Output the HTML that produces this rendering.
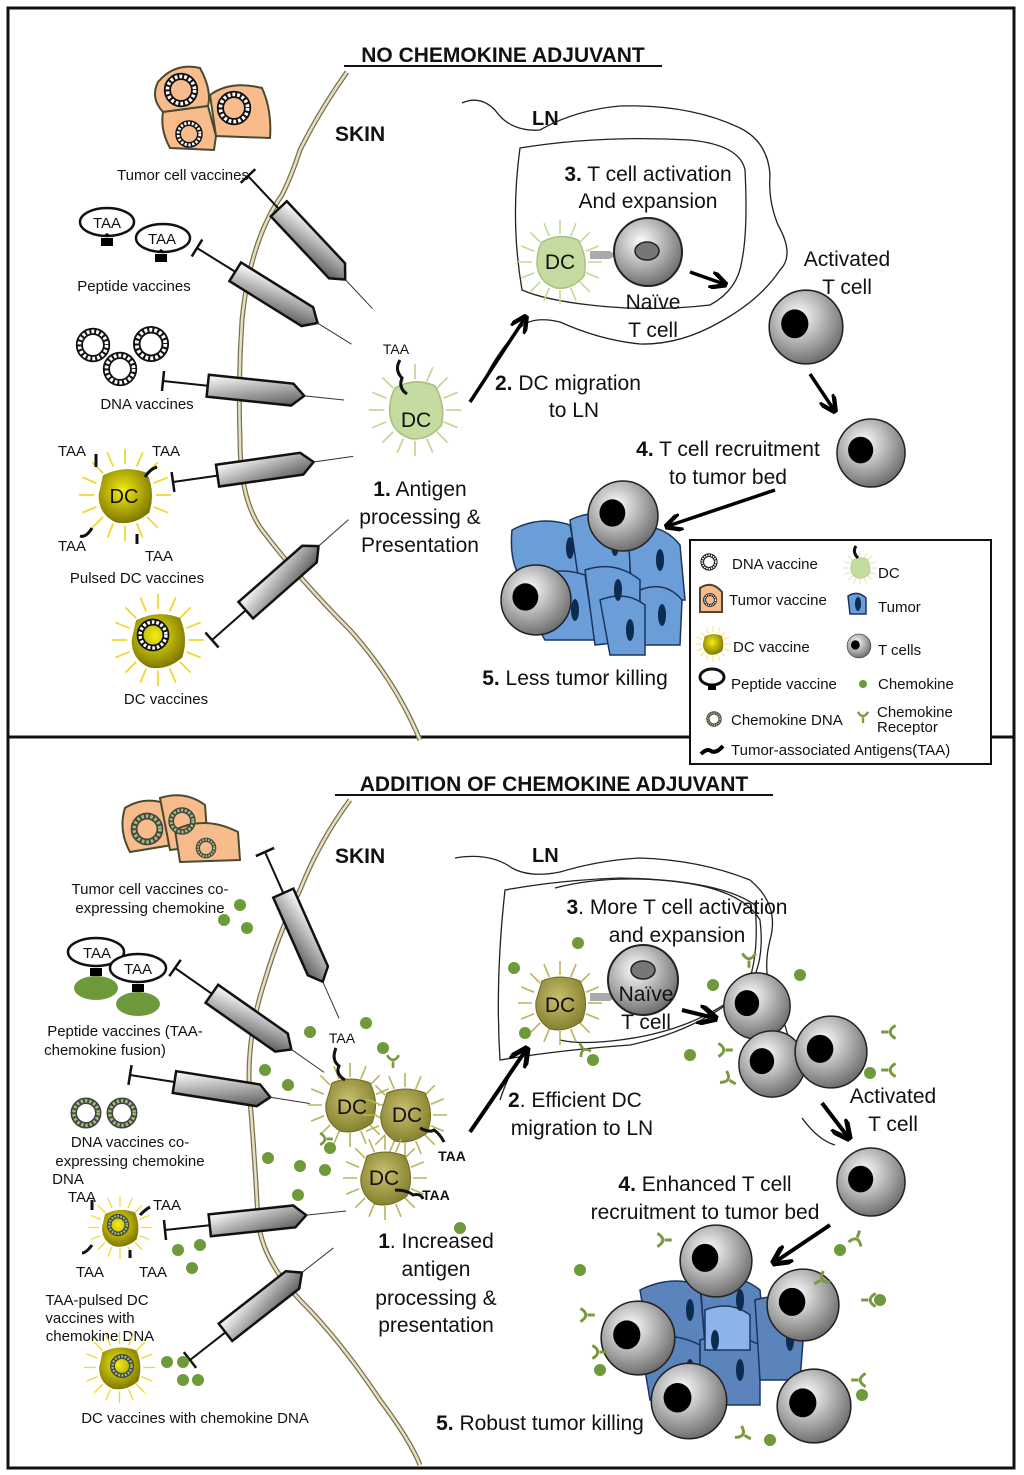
<!DOCTYPE html>
<html><head><meta charset="utf-8"><style>
html,body{margin:0;padding:0;background:#fff}
svg{display:block}
text{font-family:"Liberation Sans",sans-serif;fill:#111}
</style></head><body>
<svg width="1024" height="1475" viewBox="0 0 1024 1475" xmlns="http://www.w3.org/2000/svg">
<defs>
<linearGradient id="bar" x1="0" y1="0" x2="1" y2="1"><stop offset="0" stop-color="#fff"/><stop offset="1" stop-color="#555"/></linearGradient>
<radialGradient id="tg" cx="0.4" cy="0.35" r="0.7"><stop offset="0" stop-color="#fff"/><stop offset="1" stop-color="#666"/></radialGradient>
<radialGradient id="yg" cx="0.45" cy="0.4" r="0.6"><stop offset="0" stop-color="#f4ee10"/><stop offset="1" stop-color="#807800"/></radialGradient>
<radialGradient id="og" cx="0.45" cy="0.4" r="0.6"><stop offset="0" stop-color="#c8c070"/><stop offset="1" stop-color="#86822e"/></radialGradient>
<symbol id="syr" viewBox="0 -15 185 30" overflow="visible">
<line x1="0" y1="-10" x2="0" y2="10" stroke="#111" stroke-width="2.5"/>
<line x1="0" y1="0" x2="45" y2="0" stroke="#111" stroke-width="2"/>
<path d="M45,-11 H130 L142,0 L130,11 H45 Z" fill="url(#bar)" stroke="#111" stroke-width="2.5"/>
<line x1="142" y1="0" x2="182" y2="0" stroke="#333" stroke-width="1"/>
</symbol>
<symbol id="spk" viewBox="0 0 100 100">
<path d="M78,50L92,50M75.9,60.7L88.8,66.1M69.8,69.8L79.7,79.7M60.7,75.9L66.1,88.8M50,78L50,92M39.3,75.9L33.9,88.8M30.2,69.8L20.3,79.7M24.1,60.7L11.2,66.1M22,50L8,50M24.1,39.3L11.2,33.9M30.2,30.2L20.3,20.3M39.3,24.1L33.9,11.2M50,22L50,8M60.7,24.1L66.1,11.2M69.8,30.2L79.7,20.3M75.9,39.3L88.8,33.9" stroke="currentColor" stroke-width="1.6" fill="none"/>
</symbol>
<symbol id="dcg" viewBox="0 0 100 100">
<use href="#spk" x="0" y="0" width="100" height="100" style="color:#c6d79a"/>
<path d="M32,30 Q50,20 68,28 Q78,45 74,64 Q62,78 46,76 Q28,70 27,52 Q27,38 32,30Z" fill="#c5dca0" stroke="#a9c07f" stroke-width="1.5"/>
</symbol>
<symbol id="dcy" viewBox="0 0 100 100">
<use href="#spk" x="0" y="0" width="100" height="100" style="color:#f2d630"/>
<path d="M30,32 Q50,22 70,30 Q78,48 72,66 Q58,78 42,75 Q26,68 26,50Z" fill="url(#yg)"/>
</symbol>
<symbol id="dco" viewBox="0 0 100 100">
<use href="#spk" x="0" y="0" width="100" height="100" style="color:#b8b460"/>
<path d="M32,28 Q50,20 70,28 Q80,48 72,68 Q56,80 40,76 Q24,66 26,48Z" fill="url(#og)" stroke="#6f6a20" stroke-width="1"/>
</symbol>
<symbol id="tc" viewBox="0 0 100 100">
<circle cx="50" cy="50" r="46" fill="url(#tg)" stroke="#222" stroke-width="2"/>
<ellipse cx="36" cy="46" rx="17" ry="18" fill="#000"/>
</symbol>
<symbol id="ring" viewBox="0 0 100 100">
<circle cx="50" cy="50" r="34" fill="none" stroke="#111" stroke-width="18"/>
<circle cx="50" cy="50" r="34" fill="none" stroke="#fff" stroke-width="9" stroke-dasharray="7 5"/>
</symbol>
<symbol id="gring" viewBox="0 0 100 100">
<circle cx="50" cy="50" r="34" fill="none" stroke="#444" stroke-width="18"/>
<circle cx="50" cy="50" r="34" fill="none" stroke="#9ec070" stroke-width="9" stroke-dasharray="7 5"/>
</symbol>
<symbol id="rec" viewBox="0 0 30 30">
<path d="M4,4 Q15,22 26,4" fill="none" stroke="#7a9a40" stroke-width="5"/>
<line x1="15" y1="16" x2="15" y2="28" stroke="#7a9a40" stroke-width="5"/>
</symbol>
<marker id="ah" viewBox="0 0 10 10" refX="8" refY="5" markerWidth="5" markerHeight="5" orient="auto"><path d="M0,0 L10,5 L0,10" fill="none" stroke="#000" stroke-width="2.5"/></marker>
</defs>

<rect x="8" y="8" width="1006" height="1460" fill="#fff" stroke="#111" stroke-width="3"/>
<line x1="8" y1="737" x2="1014" y2="737" stroke="#111" stroke-width="3"/>

<!-- ============ TOP PANEL ============ -->
<text x="503" y="62" font-size="21" font-weight="bold" text-anchor="middle">NO CHEMOKINE ADJUVANT</text>
<line x1="344" y1="66" x2="662" y2="66" stroke="#111" stroke-width="2"/>
<text x="335" y="141" font-size="21" font-weight="bold">SKIN</text>
<text x="532" y="125" font-size="20" font-weight="bold">LN</text>

<path d="M347,72 Q320,110 300,150 Q292,175 282,195 Q250,240 242,320 Q238,380 240,440 Q240,500 262,530 Q300,580 350,630 Q395,680 420,740" fill="none" stroke="#7a7150" stroke-width="5"/>
<path d="M347,72 Q320,110 300,150 Q292,175 282,195 Q250,240 242,320 Q238,380 240,440 Q240,500 262,530 Q300,580 350,630 Q395,680 420,740" fill="none" stroke="#e6e0c0" stroke-width="2.5"/>

<g stroke="#4a4a30" stroke-width="2" fill="#f8bc8c">
<path d="M158,82 Q175,62 200,68 Q212,90 208,106 L163,112 Q150,98 158,82Z"/>
<path d="M210,95 Q230,80 262,88 Q272,110 270,138 L216,136 Z"/>
<path d="M163,112 L208,106 L216,136 L214,150 L170,148 Q160,130 163,112Z"/>
</g>
<use href="#ring" x="160" y="70" width="42" height="40"/>
<use href="#ring" x="212" y="88" width="44" height="40"/>
<use href="#ring" x="168" y="118" width="42" height="32"/>
<text x="183" y="180" font-size="15" text-anchor="middle">Tumor cell vaccines</text>

<ellipse cx="107" cy="222" rx="27" ry="14" fill="#fff" stroke="#111" stroke-width="2.5"/>
<text x="107" y="228" font-size="15" text-anchor="middle">TAA</text>
<path d="M101,238 h12 v8 h-12z M103,236 l4,-3 l4,3z" fill="#000"/>
<ellipse cx="163" cy="238" rx="27" ry="14" fill="#fff" stroke="#111" stroke-width="2.5"/>
<text x="162" y="244" font-size="15" text-anchor="middle">TAA</text>
<path d="M155,254 h12 v8 h-12z M157,252 l4,-3 l4,3z" fill="#000"/>
<text x="134" y="291" font-size="15" text-anchor="middle">Peptide vaccines</text>

<use href="#ring" x="72" y="325" width="42" height="40"/>
<use href="#ring" x="126" y="323" width="50" height="42"/>
<use href="#ring" x="94" y="349" width="52" height="40"/>
<text x="147" y="409" font-size="15" text-anchor="middle">DNA vaccines</text>

<use href="#dcy" x="65" y="440" width="120" height="110"/>
<text x="124" y="503" font-size="20" text-anchor="middle">DC</text>
<path d="M96,467 v-13 M145,477 q5,-8 12,-10 M92,528 q-6,10 -12,8 M137,534 v10" stroke="#111" stroke-width="3" fill="none"/>
<text x="72" y="456" font-size="15" text-anchor="middle">TAA</text>
<text x="166" y="456" font-size="15" text-anchor="middle">TAA</text>
<text x="72" y="551" font-size="15" text-anchor="middle">TAA</text>
<text x="159" y="561" font-size="15" text-anchor="middle">TAA</text>
<text x="137" y="583" font-size="15" text-anchor="middle">Pulsed DC vaccines</text>

<use href="#dcy" x="98" y="585" width="120" height="110"/>
<use href="#ring" x="134" y="616" width="38" height="38"/>
<text x="166" y="704" font-size="15" text-anchor="middle">DC vaccines</text>

<use href="#syr" x="0" y="-15" width="185" height="30" transform="translate(248,176) rotate(46.8)"/>
<use href="#syr" x="0" y="-15" width="185" height="30" transform="translate(197,248) rotate(31.9)"/>
<use href="#syr" x="0" y="-15" width="185" height="30" transform="translate(163,381) rotate(6)"/>
<use href="#syr" x="0" y="-15" width="185" height="30" transform="translate(173,482) rotate(-8.1)"/>
<use href="#syr" x="0" y="-15" width="185" height="30" transform="translate(212,640) rotate(-41.4)"/>

<use href="#dcg" x="360" y="355" width="110" height="110"/>
<text x="416" y="427" font-size="21" text-anchor="middle">DC</text>
<path d="M400,360 q-6,10 2,18 q-4,10 5,16" stroke="#111" stroke-width="3" fill="none"/>
<text x="396" y="354" font-size="14" text-anchor="middle">TAA</text>
<text x="420" y="496" font-size="21" text-anchor="middle"><tspan font-weight="bold">1.</tspan> Antigen</text>
<text x="420" y="524" font-size="21" text-anchor="middle">processing &amp;</text>
<text x="420" y="552" font-size="21" text-anchor="middle">Presentation</text>

<path d="M462,103 Q480,95 495,110 Q510,132 540,130 Q575,110 620,106 Q690,104 740,128 Q768,142 770,175 Q768,200 778,225 Q795,255 780,270 Q760,300 720,322 Q680,345 640,344 Q600,340 560,322 Q530,315 518,330 Q500,350 488,372" fill="none" stroke="#222" stroke-width="1.3"/>
<path d="M520,148 Q600,135 690,140 Q740,145 745,170 Q748,230 742,260 Q738,290 710,305 Q650,312 590,305 Q545,300 522,290 Q510,220 520,148Z" fill="none" stroke="#222" stroke-width="1.3"/>
<text x="648" y="181" font-size="21" text-anchor="middle"><tspan font-weight="bold">3.</tspan> T cell activation</text>
<text x="648" y="208" font-size="21" text-anchor="middle">And expansion</text>
<use href="#dcg" x="510" y="212" width="100" height="100"/>
<text x="560" y="269" font-size="21" text-anchor="middle">DC</text>
<path d="M590,251 h20 l6,4 l-6,4 h-20z" fill="#aaa"/>
<circle cx="648" cy="252" r="34" fill="url(#tg)" stroke="#222" stroke-width="2"/>
<ellipse cx="647" cy="251" rx="12" ry="9" fill="#777" stroke="#222" stroke-width="1.5"/>
<text x="653" y="309" font-size="21" text-anchor="middle">Naïve</text>
<text x="653" y="337" font-size="21" text-anchor="middle">T cell</text>
<line x1="690" y1="272" x2="724" y2="284" stroke="#000" stroke-width="3.5" marker-end="url(#ah)"/>
<text x="847" y="266" font-size="21" text-anchor="middle">Activated</text>
<text x="847" y="294" font-size="21" text-anchor="middle">T cell</text>
<use href="#tc" x="766" y="287" width="80" height="80"/>
<line x1="470" y1="402" x2="525" y2="318" stroke="#000" stroke-width="3.5" marker-end="url(#ah)"/>
<text x="495" y="390" font-size="21"><tspan font-weight="bold">2.</tspan> DC migration</text>
<text x="574" y="417" font-size="21" text-anchor="middle">to LN</text>
<line x1="810" y1="374" x2="834" y2="410" stroke="#000" stroke-width="3.5" marker-end="url(#ah)"/>
<use href="#tc" x="834" y="416" width="74" height="74"/>
<text x="728" y="456" font-size="21" text-anchor="middle"><tspan font-weight="bold">4.</tspan> T cell recruitment</text>
<text x="728" y="484" font-size="21" text-anchor="middle">to tumor bed</text>
<line x1="775" y1="490" x2="668" y2="526" stroke="#000" stroke-width="3.5" marker-end="url(#ah)"/>

<g fill="#6b9ed8" stroke="#1b3560" stroke-width="1.5">
<path d="M512,530 Q540,515 570,525 L580,580 L530,590 Q508,570 512,530Z"/>
<path d="M570,520 Q600,505 630,525 L630,585 L580,590Z"/>
<path d="M628,530 Q660,520 680,545 L685,600 L632,600Z"/>
<path d="M530,580 Q555,565 585,575 L595,640 L545,640 Q530,615 530,580Z"/>
<path d="M585,570 Q615,560 640,580 L640,640 L595,645Z"/>
<path d="M640,590 Q665,580 682,600 L680,645 L640,645Z"/>
<path d="M600,600 Q625,590 645,605 L645,655 L610,655Z"/>
</g>
<g fill="#0d2a50"><ellipse cx="570" cy="548" rx="4" ry="11"/><ellipse cx="615" cy="545" rx="4" ry="11"/><ellipse cx="660" cy="560" rx="4" ry="11"/><ellipse cx="575" cy="610" rx="4" ry="11"/><ellipse cx="618" cy="590" rx="4" ry="11"/><ellipse cx="662" cy="615" rx="4" ry="11"/><ellipse cx="630" cy="630" rx="4" ry="11"/></g>
<use href="#tc" x="585" y="478" width="76" height="76"/>
<use href="#tc" x="498" y="562" width="76" height="76"/>
<text x="575" y="685" font-size="21" text-anchor="middle"><tspan font-weight="bold">5.</tspan> Less tumor killing</text>

<rect x="690" y="540" width="301" height="224" fill="#fff" stroke="#111" stroke-width="2"/>
<use href="#ring" x="699" y="551" width="20" height="22"/>
<text x="732" y="569" font-size="15">DNA vaccine</text>
<use href="#dcg" x="838" y="548" width="44" height="40"/>
<path d="M856,546 q-4,6 2,12" stroke="#111" stroke-width="3" fill="none"/>
<text x="878" y="578" font-size="15">DC</text>
<path d="M700,588 Q712,580 722,592 L722,612 L700,612Z" fill="#f8bc8c" stroke="#4a4a30" stroke-width="2"/>
<use href="#ring" x="702" y="592" width="16" height="16"/>
<text x="729" y="605" font-size="15">Tumor vaccine</text>
<path d="M848,596 Q858,590 866,598 L866,614 L850,614Z" fill="#6b9ed8" stroke="#1b3560" stroke-width="1.5"/>
<ellipse cx="858" cy="604" rx="3" ry="7" fill="#0d2a50"/>
<text x="878" y="612" font-size="15">Tumor</text>
<use href="#dcy" x="692" y="623" width="42" height="42"/>
<text x="733" y="652" font-size="15">DC vaccine</text>
<use href="#tc" x="846" y="633" width="26" height="26"/>
<text x="878" y="655" font-size="15">T cells</text>
<ellipse cx="712" cy="677" rx="12" ry="8" fill="#fff" stroke="#111" stroke-width="3"/>
<path d="M708,684 h8 v6 h-8z" fill="#000"/>
<text x="731" y="689" font-size="15">Peptide vaccine</text>
<circle cx="863" cy="684" r="4" fill="#6f9a3c"/>
<text x="878" y="689" font-size="15">Chemokine</text>
<use href="#gring" x="705" y="707" width="18" height="24"/>
<text x="731" y="725" font-size="15">Chemokine DNA</text>
<use href="#rec" x="856" y="709" width="14" height="16"/>
<text x="877" y="717" font-size="15">Chemokine</text>
<text x="877" y="732" font-size="15">Receptor</text>
<path d="M701,754 q6,-6 10,-3 q5,3 12,-5" stroke="#000" stroke-width="4" fill="none"/>
<text x="731" y="755" font-size="15">Tumor-associated Antigens(TAA)</text>

<!-- ============ BOTTOM PANEL ============ -->
<text x="554" y="791" font-size="21" font-weight="bold" text-anchor="middle">ADDITION OF CHEMOKINE ADJUVANT</text>
<line x1="335" y1="795" x2="773" y2="795" stroke="#111" stroke-width="2"/>
<text x="335" y="863" font-size="21" font-weight="bold">SKIN</text>
<text x="532" y="862" font-size="20" font-weight="bold">LN</text>

<path d="M350,800 Q320,840 300,890 Q280,930 265,980 Q245,1040 250,1100 Q255,1160 258,1220 Q262,1260 300,1300 Q340,1340 380,1400 Q410,1440 420,1465" fill="none" stroke="#7a7150" stroke-width="5"/>
<path d="M350,800 Q320,840 300,890 Q280,930 265,980 Q245,1040 250,1100 Q255,1160 258,1220 Q262,1260 300,1300 Q340,1340 380,1400 Q410,1440 420,1465" fill="none" stroke="#e6e0c0" stroke-width="2.5"/>

<g stroke="#4a4a30" stroke-width="2" fill="#f8bc8c">
<path d="M125,808 Q145,795 170,805 L172,845 L130,852 Q118,830 125,808Z"/>
<path d="M160,798 Q185,790 205,805 L208,845 L170,850Z"/>
<path d="M175,830 Q205,815 238,832 L240,860 L180,862Z"/>
</g>
<use href="#gring" x="128" y="810" width="38" height="38"/>
<use href="#gring" x="166" y="800" width="32" height="42"/>
<use href="#gring" x="186" y="836" width="40" height="24"/>
<text x="150" y="894" font-size="15" text-anchor="middle">Tumor cell vaccines co-</text>
<text x="150" y="913" font-size="15" text-anchor="middle">expressing chemokine</text>

<ellipse cx="96" cy="952" rx="28" ry="14" fill="#fff" stroke="#111" stroke-width="2.5"/>
<text x="97" y="958" font-size="15" text-anchor="middle">TAA</text>
<path d="M90,968 h12 v8 h-12z" fill="#000"/>
<ellipse cx="96" cy="988" rx="22" ry="12" fill="#6f9a3c"/>
<ellipse cx="138" cy="968" rx="28" ry="14" fill="#fff" stroke="#111" stroke-width="2.5"/>
<text x="138" y="974" font-size="15" text-anchor="middle">TAA</text>
<path d="M132,984 h12 v8 h-12z" fill="#000"/>
<ellipse cx="138" cy="1004" rx="22" ry="12" fill="#6f9a3c"/>
<text x="125" y="1036" font-size="15" text-anchor="middle">Peptide vaccines (TAA-</text>
<text x="105" y="1055" font-size="15" text-anchor="middle">chemokine fusion)</text>

<use href="#gring" x="64" y="1095" width="44" height="36"/>
<use href="#gring" x="100" y="1095" width="44" height="36"/>
<text x="130" y="1147" font-size="15" text-anchor="middle">DNA vaccines co-</text>
<text x="130" y="1166" font-size="15" text-anchor="middle">expressing chemokine</text>
<text x="68" y="1184" font-size="15" text-anchor="middle">DNA</text>

<use href="#dcy" x="80" y="1190" width="80" height="75"/>
<use href="#gring" x="105" y="1212" width="26" height="26"/>
<path d="M92,1210 v-10 M140,1215 q6,-6 10,-8 M92,1245 q-6,8 -10,8 M130,1250 v8" stroke="#111" stroke-width="3" fill="none"/>
<text x="82" y="1202" font-size="15" text-anchor="middle">TAA</text>
<text x="167" y="1210" font-size="15" text-anchor="middle">TAA</text>
<text x="90" y="1277" font-size="15" text-anchor="middle">TAA</text>
<text x="153" y="1277" font-size="15" text-anchor="middle">TAA</text>
<text x="97" y="1305" font-size="15" text-anchor="middle">TAA-pulsed DC</text>
<text x="90" y="1323" font-size="15" text-anchor="middle">vaccines with</text>
<text x="100" y="1341" font-size="15" text-anchor="middle">chemokine DNA</text>
<use href="#dcy" x="72" y="1325" width="95" height="85"/>
<use href="#gring" x="108" y="1352" width="28" height="28"/>
<text x="195" y="1423" font-size="15" text-anchor="middle">DC vaccines with chemokine DNA</text>

<use href="#syr" x="0" y="-15" width="185" height="30" transform="translate(265,852) rotate(66)"/>
<use href="#syr" x="0" y="-15" width="185" height="30" transform="translate(175,968) rotate(35)"/>
<use href="#syr" x="0" y="-15" width="185" height="30" transform="translate(130,1075) rotate(9)"/>
<use href="#syr" x="0" y="-15" width="185" height="30" transform="translate(165,1230) rotate(-6)"/>
<use href="#syr" x="0" y="-15" width="185" height="30" transform="translate(190,1360) rotate(-38)"/>

<use href="#dco" x="300" y="1055" width="100" height="100"/>
<use href="#dco" x="355" y="1065" width="100" height="100"/>
<use href="#dco" x="335" y="1128" width="100" height="100"/>
<text x="352" y="1114" font-size="21" text-anchor="middle">DC</text>
<text x="407" y="1122" font-size="21" text-anchor="middle">DC</text>
<text x="384" y="1185" font-size="21" text-anchor="middle">DC</text>
<path d="M336,1048 q-5,12 3,18 q-4,8 6,14 M420,1128 q10,5 14,2 q6,4 10,12 M395,1190 q12,0 18,5 q8,-2 10,4" stroke="#111" stroke-width="3" fill="none"/>
<text x="342" y="1043" font-size="14" text-anchor="middle">TAA</text>
<text x="452" y="1161" font-size="14" font-weight="bold" text-anchor="middle">TAA</text>
<text x="436" y="1200" font-size="14" font-weight="bold" text-anchor="middle">TAA</text>
<text x="436" y="1248" font-size="21" text-anchor="middle"><tspan font-weight="bold">1</tspan>. Increased</text>
<text x="436" y="1276" font-size="21" text-anchor="middle">antigen</text>
<text x="436" y="1305" font-size="21" text-anchor="middle">processing &amp;</text>
<text x="436" y="1332" font-size="21" text-anchor="middle">presentation</text>

<path d="M455,858 Q490,852 512,868 Q530,878 560,872 Q600,860 640,858 Q700,860 750,880 Q780,905 770,940 Q760,980 780,1010 Q790,1040 800,1080 M802,1118 Q818,1140 835,1145 M500,1100 Q510,1070 520,1060" fill="none" stroke="#222" stroke-width="1.3"/>
<path d="M500,1060 Q495,980 505,890 Q560,880 620,878 Q720,880 755,905 Q760,960 745,990 Q700,1030 630,1045 Q560,1050 500,1060Z" fill="none" stroke="#222" stroke-width="1.3"/>
<path d="M555,888 Q600,876 660,880 Q740,886 760,920 Q765,960 750,985 Q700,1030 620,1040 Q580,1045 560,1040" fill="none" stroke="#222" stroke-width="1.3"/>
<text x="677" y="914" font-size="21" text-anchor="middle"><tspan font-weight="bold">3</tspan>. More T cell activation</text>
<text x="677" y="942" font-size="21" text-anchor="middle">and expansion</text>
<use href="#dco" x="510" y="953" width="100" height="100"/>
<text x="560" y="1012" font-size="21" text-anchor="middle">DC</text>
<path d="M590,993 h20 l6,4 l-6,4 h-20z" fill="#aaa"/>
<circle cx="643" cy="980" r="35" fill="url(#tg)" stroke="#222" stroke-width="2"/>
<ellipse cx="643" cy="970" rx="12" ry="9" fill="#777" stroke="#222" stroke-width="1.5"/>
<text x="646" y="1001" font-size="21" text-anchor="middle">Naïve</text>
<text x="646" y="1029" font-size="21" text-anchor="middle">T cell</text>
<line x1="682" y1="1010" x2="714" y2="1018" stroke="#000" stroke-width="4" marker-end="url(#ah)"/>
<use href="#tc" x="721" y="970" width="72" height="72"/>
<use href="#tc" x="736" y="1028" width="72" height="72"/>
<use href="#tc" x="792" y="1013" width="78" height="78"/>
<line x1="470" y1="1132" x2="526" y2="1050" stroke="#000" stroke-width="4" marker-end="url(#ah)"/>
<text x="508" y="1107" font-size="21"><tspan font-weight="bold">2</tspan>. Efficient DC</text>
<text x="582" y="1135" font-size="21" text-anchor="middle">migration to LN</text>
<text x="893" y="1103" font-size="21" text-anchor="middle">Activated</text>
<text x="893" y="1131" font-size="21" text-anchor="middle">T cell</text>
<line x1="822" y1="1103" x2="848" y2="1137" stroke="#000" stroke-width="4" marker-end="url(#ah)"/>
<use href="#tc" x="834" y="1145" width="74" height="74"/>
<text x="705" y="1191" font-size="21" text-anchor="middle"><tspan font-weight="bold">4.</tspan> Enhanced T cell</text>
<text x="705" y="1219" font-size="21" text-anchor="middle">recruitment to tumor bed</text>
<line x1="830" y1="1225" x2="775" y2="1262" stroke="#000" stroke-width="4" marker-end="url(#ah)"/>

<g fill="#5a84bb" stroke="#1b3560" stroke-width="1.5">
<path d="M640,1290 Q670,1275 700,1285 L705,1345 L650,1350Z"/>
<path d="M700,1280 Q735,1270 760,1290 L765,1345 L705,1345Z"/>
<path d="M640,1340 Q670,1330 700,1345 L700,1400 L650,1400Z"/>
<path d="M700,1340 Q730,1330 760,1345 L760,1405 L700,1405Z"/>
<path d="M755,1300 Q785,1290 805,1315 L800,1380 L760,1380Z"/>
</g>
<path d="M705,1310 Q730,1300 750,1315 L750,1350 L705,1350Z" fill="#8ab4ea" stroke="#1b3560" stroke-width="1.5"/>
<g fill="#0d2a50"><ellipse cx="690" cy="1310" rx="4" ry="11"/><ellipse cx="740" cy="1300" rx="4" ry="11"/><ellipse cx="690" cy="1370" rx="4" ry="11"/><ellipse cx="740" cy="1370" rx="4" ry="11"/><ellipse cx="790" cy="1340" rx="4" ry="11"/><ellipse cx="715" cy="1340" rx="4" ry="10"/></g>
<use href="#tc" x="677" y="1222" width="78" height="78"/>
<use href="#tc" x="764" y="1266" width="78" height="78"/>
<use href="#tc" x="598" y="1298" width="80" height="80"/>
<use href="#tc" x="648" y="1360" width="82" height="82"/>
<use href="#tc" x="774" y="1366" width="80" height="80"/>
<text x="540" y="1430" font-size="21" text-anchor="middle"><tspan font-weight="bold">5.</tspan> Robust tumor killing</text>

<g fill="#6f9a3c">
<circle cx="224" cy="920" r="6"/><circle cx="247" cy="928" r="6"/><circle cx="240" cy="905" r="6"/>
<circle cx="310" cy="1032" r="6"/><circle cx="366" cy="1023" r="6"/><circle cx="383" cy="1048" r="6"/><circle cx="265" cy="1070" r="6"/><circle cx="288" cy="1085" r="6"/>
<circle cx="268" cy="1158" r="6"/><circle cx="300" cy="1166" r="6"/><circle cx="325" cy="1170" r="6"/><circle cx="330" cy="1148" r="6"/><circle cx="298" cy="1195" r="6"/><circle cx="460" cy="1228" r="6"/>
<circle cx="178" cy="1250" r="6"/><circle cx="200" cy="1245" r="6"/><circle cx="192" cy="1268" r="6"/>
<circle cx="167" cy="1362" r="6"/><circle cx="183" cy="1362" r="6"/><circle cx="183" cy="1380" r="6"/><circle cx="198" cy="1380" r="6"/>
<circle cx="578" cy="943" r="6"/><circle cx="514" cy="968" r="6"/><circle cx="593" cy="1060" r="6"/><circle cx="525" cy="1033" r="6"/>
<circle cx="713" cy="985" r="6"/><circle cx="800" cy="975" r="6"/><circle cx="690" cy="1055" r="6"/><circle cx="870" cy="1073" r="6"/>
<circle cx="580" cy="1270" r="6"/><circle cx="600" cy="1370" r="6"/><circle cx="840" cy="1250" r="6"/><circle cx="880" cy="1300" r="6"/><circle cx="862" cy="1395" r="6"/><circle cx="770" cy="1440" r="6"/>
</g>
<g>
<use href="#rec" x="740" y="950" width="18" height="20"/>
<use href="#rec" x="716" y="1040" width="18" height="20" transform="rotate(-90 725 1050)"/>
<use href="#rec" x="720" y="1070" width="18" height="20" transform="rotate(-60 729 1080)"/>
<use href="#rec" x="880" y="1022" width="18" height="20" transform="rotate(90 889 1032)"/>
<use href="#rec" x="880" y="1060" width="18" height="20" transform="rotate(90 889 1070)"/>
<use href="#rec" x="385" y="1052" width="16" height="18"/>
<use href="#rec" x="318" y="1130" width="16" height="18" transform="rotate(-90 326 1139)"/>
<use href="#rec" x="575" y="1040" width="16" height="18" transform="rotate(150 583 1049)"/>
<use href="#rec" x="848" y="1228" width="18" height="20" transform="rotate(200 857 1238)"/>
<use href="#rec" x="860" y="1290" width="18" height="20" transform="rotate(90 869 1300)"/>
<use href="#rec" x="655" y="1230" width="18" height="20" transform="rotate(-90 664 1240)"/>
<use href="#rec" x="578" y="1305" width="18" height="20" transform="rotate(-90 587 1315)"/>
<use href="#rec" x="590" y="1342" width="18" height="20" transform="rotate(-90 599 1352)"/>
<use href="#rec" x="850" y="1370" width="18" height="20" transform="rotate(90 859 1380)"/>
<use href="#rec" x="735" y="1425" width="18" height="20" transform="rotate(-60 744 1435)"/>
<use href="#rec" x="812" y="1270" width="18" height="20" transform="rotate(60 821 1280)"/>
</g>
</svg>
</body></html>
